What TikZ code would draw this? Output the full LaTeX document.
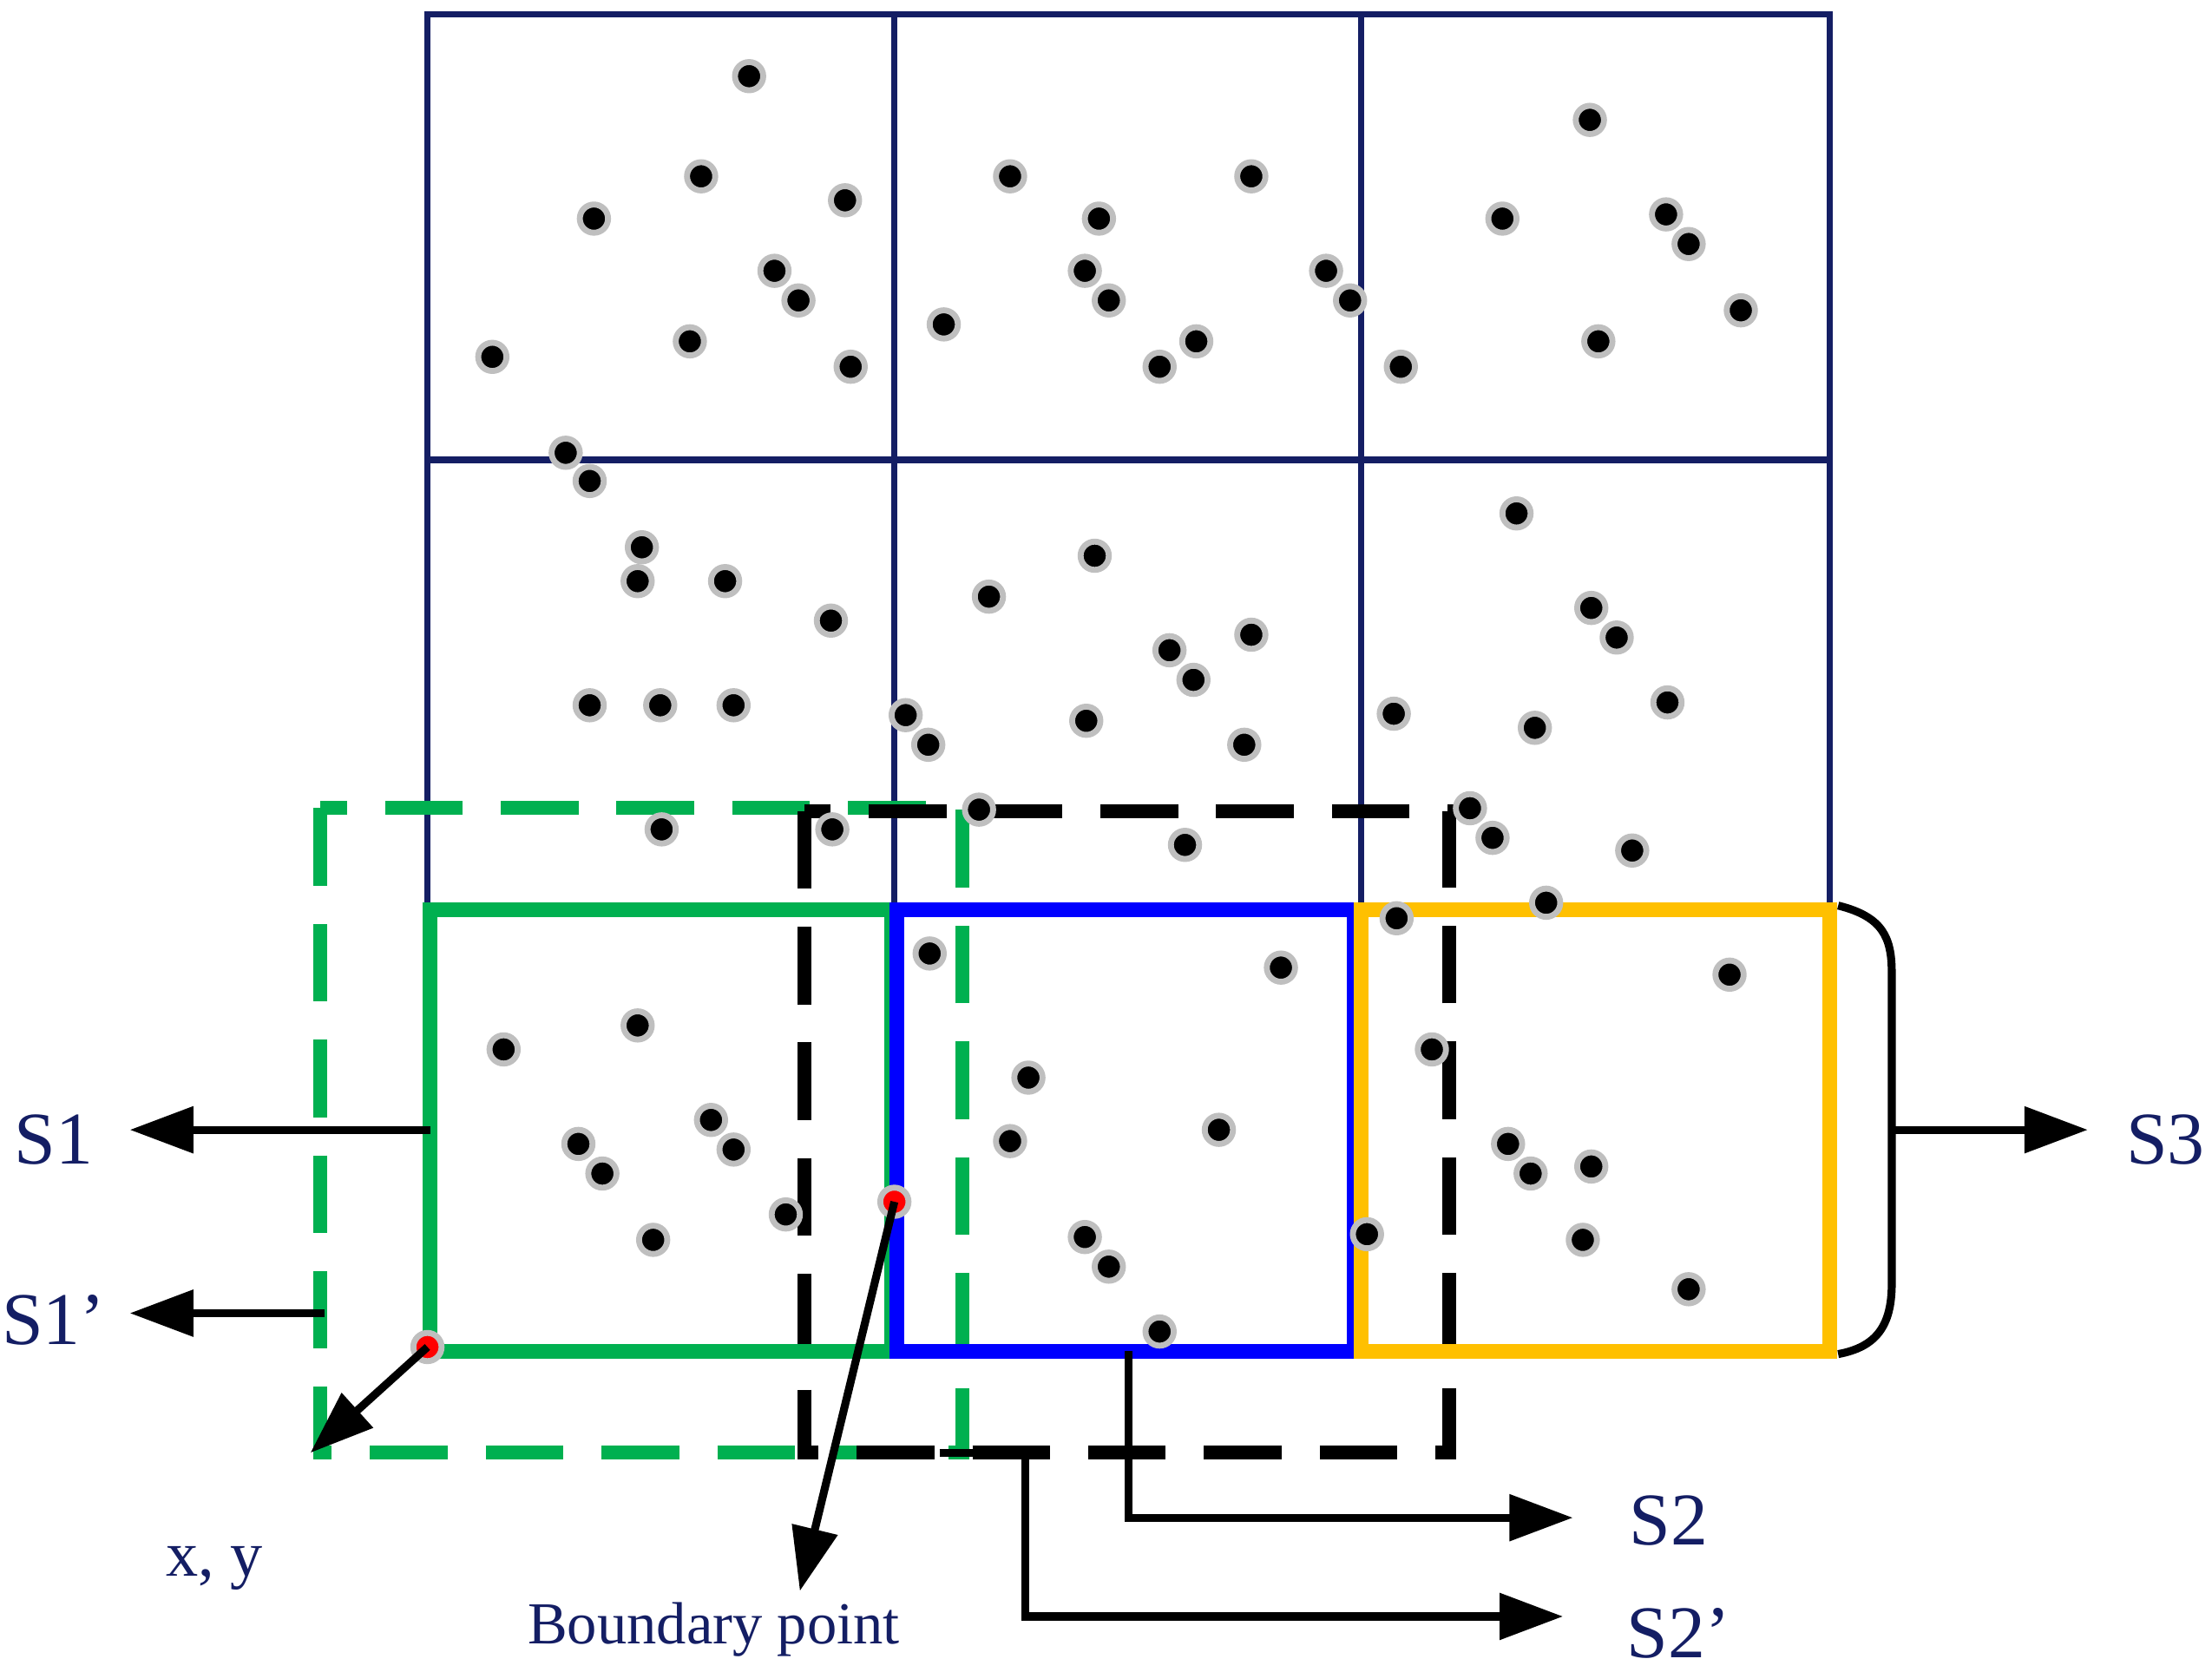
\documentclass[tikz,border=0pt]{standalone}
\usepackage{fontspec}
\setmainfont[Ligatures=NoCommon]{Liberation Serif}
\usetikzlibrary{arrows.meta}
\definecolor{navy}{RGB}{20,30,100}
\definecolor{grn}{RGB}{0,176,80}
\definecolor{blu}{RGB}{0,0,255}
\definecolor{org}{RGB}{255,192,0}
\begin{document}
\begin{tikzpicture}[x=0.01cm,y=-0.01cm,
 dot/.style={circle,fill=black,draw=black!25,line width=1.2pt,inner sep=0pt,minimum size=0.2cm},
 rdot/.style={circle,fill=red,draw=black!25,line width=1.2pt,inner sep=0pt,minimum size=0.2cm},
 arr/.style={line width=1.6pt,-{Triangle[length=0.45cm,width=0.32cm]}},
 lab/.style={text=navy,font=\fontsize{15}{17}\selectfont},
 grid/.style={navy,line width=1.3pt}]
\useasboundingbox (0,0) rectangle (1568,1185);
% grid
\draw[grid] (303,10) rectangle (1297,958);
\draw[grid] (634,10) -- (634,642) (965,10) -- (965,642) (303,326) -- (1297,326) (303,642) -- (1297,642);
% dashed boxes
\draw[grn,line width=2.8pt,dash pattern=on 0.55cm off 0.27cm] (227,573) rectangle (682,1030);
\draw[black,line width=2.8pt,dash pattern=on 0.55cm off 0.27cm] (570,575) rectangle (1027,1030);
% solid boxes
\draw[grn,line width=3pt] (305,645) rectangle (632,958);
\draw[blu,line width=3pt] (636,645) rectangle (960,958);
\draw[org,line width=3pt] (965,645) rectangle (1297,958);
% dots
\foreach \p in {(531,54),(497,125),(421,155),(599,142),(549,192),(566,213),(349,253),(489,242),(603,260),
(716,125),(779,155),(887,125),(769,192),(786,213),(669,230),(848,242),(822,260),(940,192),(957,213),
(1127,85),(1065,155),(1181,152),(1197,173),(1234,220),(1133,242),(993,260),
(401,321),(418,341),(455,388),(452,412),(514,412),(589,440),(418,500),(468,500),(520,500),(469,588),(590,588),
(776,394),(701,423),(887,450),(829,461),(846,482),(642,507),(658,528),(770,511),(882,528),(694,574),(840,599),
(1075,364),(1128,431),(1146,452),(1182,498),(988,506),(1088,516),(1042,573),(1058,594),(1157,603),(1096,640),(990,651),
(452,727),(357,744),(504,794),(410,811),(520,815),(427,832),(557,861),(463,879),
(659,676),(908,686),(729,764),(716,809),(864,801),(769,877),(786,898),(822,944),
(1226,691),(1015,744),(1069,811),(1085,832),(1128,827),(1122,879),(1197,914),(969,875)}
 \node[dot] at \p {};
\node[rdot] (bp) at (634,852) {};
\node[rdot] (xy) at (303,955) {};
% labels
\node[lab] (s1) at (38,808) {S1};
\node[lab] (s1p) at (38,936) {S1\symbol{39}};
\node[lab] (s3) at (1535,808) {S3};
\node[lab] (s2) at (1183,1078) {S2};
\node[lab] (s2p) at (1190,1158) {S2\symbol{39}};
\node[lab,font=\fontsize{13}{15}\selectfont] (xyl) at (152,1112) {x, y};
\node[lab,font=\fontsize{12}{14}\selectfont] (bpl) at (506,1155) {Boundary point};
\coordinate (a1) at (305,801); \coordinate (a1e) at (92,801);
\coordinate (a2) at (230,931); \coordinate (a2e) at (92,931);
\coordinate (xye) at (220,1030);
\coordinate (bpe) at (567,1128);
\coordinate (s2e) at (1115,1076);
\coordinate (s2pe) at (1108,1146);
\coordinate (s3s) at (1341,801); \coordinate (s3e) at (1480,801);
% arrows
\draw[arr] (a1) -- (a1e);
\draw[arr] (a2) -- (a2e);
\draw[arr] (xy.center) -- (xye);
\draw[arr] (bp.center) -- (bpe);
\draw[arr] (800,958) -- (800,1076) -- (s2e);
\draw[arr] (666,1030) -- (727,1030) -- (727,1146) -- (s2pe);
\draw[line width=1.6pt] (1303,642) .. controls (1335,650) and (1341,665) .. (1341,690) -- (1341,910) .. controls (1341,940) and (1330,955) .. (1303,960);
\draw[arr] (s3s) -- (s3e);
\end{tikzpicture}
\end{document}
